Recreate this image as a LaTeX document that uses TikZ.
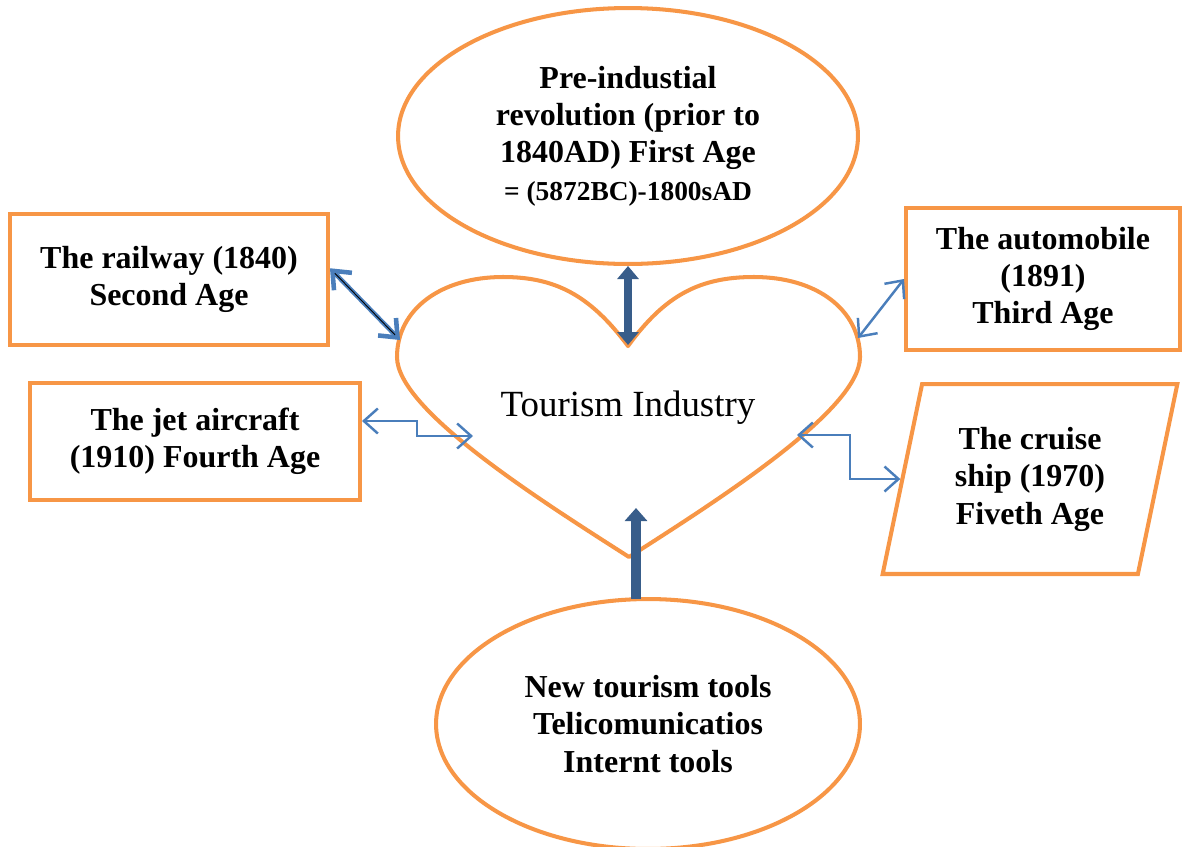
\documentclass[tikz,border=0pt]{standalone}
\usepackage{fontspec}
\setmainfont{Liberation Serif}
\usetikzlibrary{arrows.meta,shapes.geometric}
\definecolor{ageorange}{HTML}{F79646}
\definecolor{linkblue}{HTML}{4A7EBB}
\definecolor{pushblue}{HTML}{385D8A}
\tikzset{
  agefont/.style={font=\bfseries\fontsize{18.2}{21.3}\selectfont, align=center},
  agebox/.style={draw=ageorange, line width=2.3pt, agefont, inner sep=2pt},
  ageoval/.style={agebox, ellipse},
  heartline/.style={draw=ageorange, line width=2.3pt, line join=round},
  link/.style={{Straight Barb[length=0.28cm,width=0.5cm]}-{Straight Barb[length=0.28cm,width=0.5cm]}, draw=linkblue, line width=1.4pt},
  push/.style={-{Triangle[length=0.26cm,width=0.44cm]}, draw=pushblue, line width=5.6pt},
  pushboth/.style={{Triangle[length=0.26cm,width=0.42cm]}-{Triangle[length=0.26cm,width=0.42cm]}, draw=pushblue, line width=5pt},
}

\begin{document}
\begin{tikzpicture}[x=0.02cm, y=-0.02cm]
    \useasboundingbox (0,0) rectangle (1182,846);
    % the five ages and the tools around the heart
    \node[ageoval, minimum width=9.2cm, minimum height=5.12cm] (first) at (628,136)
      {Pre-industial\\ revolution (prior to\\ 1840AD) First Age\\
       {\fontsize{15.6}{17}\selectfont = (5872BC)-1800sAD}};
    \node[agebox, minimum width=6.36cm, minimum height=2.62cm] (railway) at (169,279.5)
      {The railway (1840)\\ Second Age};
    \node[agebox, minimum width=5.48cm, minimum height=2.84cm] (auto) at (1043,279)
      {The automobile\\ (1891)\\ Third Age};
    \node[agebox, minimum width=6.6cm, minimum height=2.34cm] (jet) at (195,441.5)
      {The jet aircraft\\ (1910) Fourth Age};
    \node[agebox, trapezium, trapezium left angle=75.5, trapezium right angle=104.5,
      trapezium stretches=true, minimum width=5.9cm, minimum height=3.8cm] (cruise) at (1030,479)
      {The cruise\\ ship (1970)\\ Fiveth Age};
    \node[ageoval, minimum width=8.48cm, minimum height=5cm] (tools) at (648,724)
      {New tourism tools\\ Telicomunicatios\\ Internt tools};

    % heart
    \draw[heartline] (628,346) .. controls (590,295) and (555,277) .. (503,277)
      .. controls (440,277) and (397,310) .. (397,357)
      .. controls (397,410) and (540,500) .. (629,557)
      .. controls (718,500) and (860,410) .. (860,357)
      .. controls (860,310) and (817,277) .. (754,277)
      .. controls (700,277) and (665,295) .. (628,346) -- cycle;
    \node[font=\fontsize{21}{24}\selectfont] (industry) at (628,408) {Tourism Industry};
    \coordinate (notch) at (628,345);
    \coordinate (heartL) at (400,340);
    \coordinate (heartR) at (858,338);
    \coordinate (heartB) at (636,508);
    \coordinate (jetin) at (473,436);
    \coordinate (cruisein) at (797,435);
    \coordinate (toolsup) at (636,599);

    % connectors
    \draw[pushboth] (first.south) -- (notch);
    \draw[push] (toolsup) -- (heartB);
    \draw[{Straight Barb[length=0.3cm,width=0.5cm]}-{Straight Barb[length=0.3cm,width=0.5cm]}, draw=linkblue, line width=2.6pt] (railway.4) -- (heartL);
    \draw[black, line width=0.5pt, shorten <=4pt, shorten >=4pt] (railway.4) -- (heartL);
    \draw[link] (auto.west) -- (heartR);
    \draw[link] (jet.7) -- ++(55,0) |- (jetin);
    \draw[link] (cruisein) -- ++(53,0) |- (cruise.west);
  \end{tikzpicture}
\end{document}
